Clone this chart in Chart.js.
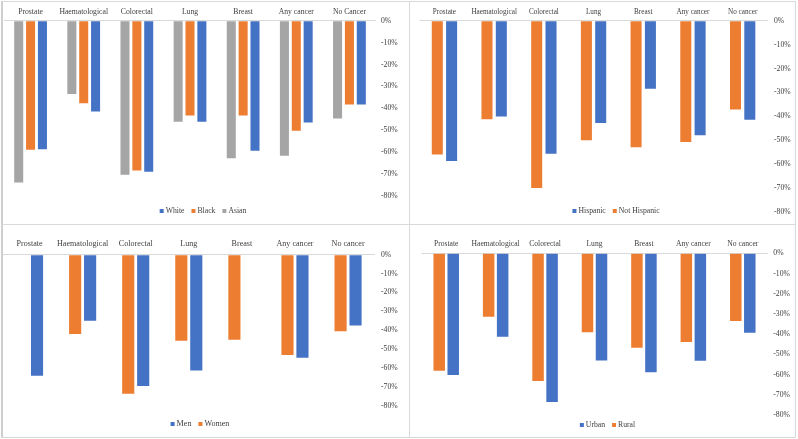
<!DOCTYPE html>
<html><head><meta charset="utf-8">
<script src="https://cdn.jsdelivr.net/npm/chart.js@4"></script>
<style>
html,body{margin:0;padding:0;background:#fff;width:798px;height:439px;overflow:hidden;position:relative}
.frame{position:absolute;border:1px solid #d9d9d9;box-sizing:border-box}
canvas{position:absolute}
</style></head><body>
<div class="frame" style="left:1px;top:1px;width:409px;height:224px;border-left:2px solid #cfcfcf"></div>
<div class="frame" style="left:409px;top:1px;width:387px;height:224px"></div>
<div class="frame" style="left:1px;top:224px;width:409px;height:214px;border-left:2px solid #cfcfcf"></div>
<div class="frame" style="left:409px;top:224px;width:387px;height:214px"></div>
<canvas id="c1" width="406" height="221" style="left:2px;top:2px"></canvas>
<canvas id="c2" width="384" height="221" style="left:410px;top:2px"></canvas>
<canvas id="c3" width="406" height="211" style="left:2px;top:225px"></canvas>
<canvas id="c4" width="384" height="211" style="left:410px;top:225px"></canvas>
<script>
// ---- data ----
const categoriesRace = ['Prostate','Haematological','Colorectal','Lung','Breast','Any cancer','No Cancer'];
const categories = ['Prostate','Haematological','Colorectal','Lung','Breast','Any cancer','No cancer'];
const yTicks = [0,-10,-20,-30,-40,-50,-60,-70,-80];

const white = [-58.7, -41.4, -68.9, -46.1, -59.3, -46.5, -38.2];
const black = [-58.9, -37.7, -68.4, -43.3, -43.3, -50.2, -38.2];
const asian = [-73.8, -33.5, -70.3, -46.1, -62.8, -61.6, -44.6];

const hispanic    = [-58.7, -40.1, -55.7, -42.8, -28.5, -47.9, -41.4];
const notHispanic = [-56.0, -41.2, -70.0, -50.0, -53.0, -50.8, -37.2];

const men   = [-64.1, -35.0, -69.6, -61.3, null, -54.6, -37.5];
const women = [null, -42.0, -73.7, -45.6, -45.0, -53.2, -40.6];

const urban = [-60.2, -41.3, -73.6, -53.0, -58.9, -53.1, -39.3];
const rural = [-58.1, -31.4, -63.2, -39.1, -46.7, -43.9, -33.5];

// ---- styles ----
const BLUE = '#4472C4', ORANGE = '#ED7D31', GRAY = '#A5A5A5';
const TEXT = '#404040';
const FONT = '"Liberation Serif", "Times New Roman", serif';

const legendPlugin = {
  id: 'customLegend',
  afterDraw(chart, args, opts) {
    const ctx = chart.ctx;
    const items = opts.order.map(i => chart.data.datasets[i]);
    ctx.save();
    ctx.font = opts.size + 'px ' + FONT;
    const box = 4, gap = 2, sep = 7;
    const widths = items.map(d => box + gap + ctx.measureText(d.label).width);
    const total = widths.reduce((a, b) => a + b, 0) + sep * (items.length - 1);
    let x = opts.cx - total / 2;
    ctx.textBaseline = 'middle';
    ctx.textAlign = 'left';
    items.forEach((d, i) => {
      ctx.fillStyle = d.backgroundColor;
      ctx.fillRect(x, opts.cy - box / 2, box, box);
      ctx.fillStyle = TEXT;
      ctx.fillText(d.label, x + box + gap, opts.cy);
      x += widths[i] + sep;
    });
    ctx.restore();
  }
};

function makeChart(id, labels, datasets, g) {
  const canvas = document.getElementById(id);
  const W = canvas.width, H = canvas.height;
  return new Chart(canvas, {
    type: 'bar',
    data: { labels: labels, datasets: datasets.map(d => ({
      label: d.label, data: d.data, backgroundColor: d.color, borderWidth: 0,
      categoryPercentage: g.cat, barPercentage: g.bar
    })) },
    options: {
      responsive: false, animation: false, devicePixelRatio: 1,
      layout: { padding: { left: g.left, right: 0, top: 0, bottom: H - g.bottom } },
      plugins: {
        legend: { display: false }, tooltip: { enabled: false },
        customLegend: { order: g.legendOrder, cx: g.lx, cy: g.ly, size: g.lsize }
      },
      scales: {
        x: {
          position: 'top',
          grid: { display: false, drawTicks: false },
          border: { display: false },
          ticks: { color: TEXT, font: { family: FONT, size: g.xsize }, padding: g.xpad, maxRotation: 0, autoSkip: false },
          afterFit: s => { s.height = g.top; }
        },
        y: {
          position: 'right', min: -80, max: 0,
          afterBuildTicks: s => { s.ticks = yTicks.map(v => ({ value: v })); },
          grid: { drawTicks: false, lineWidth: 1,
                  color: c => (c.tick && c.tick.value === 0) ? '#d9d9d9' : 'rgba(0,0,0,0)' },
          border: { display: false },
          ticks: { color: TEXT, font: { family: FONT, size: g.ysize }, padding: g.ypad,
                   callback: v => v + '%' },
          afterFit: s => { s.width = W - g.right; }
        }
      }
    },
    plugins: [legendPlugin]
  });
}

makeChart('c1', categoriesRace, [
  { label: 'Asian', data: asian, color: GRAY },
  { label: 'Black', data: black, color: ORANGE },
  { label: 'White', data: white, color: BLUE }
], { left: 2, right: 374, top: 18.7, bottom: 194, cat: 0.67, bar: 0.76,
     xsize: 7.7, ysize: 7.7, xpad: 4.4, ypad: 5, legendOrder: [2, 1, 0], lx: 201, ly: 209, lsize: 7.7 });

makeChart('c2', categories, [
  { label: 'Not Hispanic', data: notHispanic, color: ORANGE },
  { label: 'Hispanic', data: hispanic, color: BLUE }
], { left: 9.6, right: 357.5, top: 18.7, bottom: 215.3, cat: 0.576, bar: 0.77,
     xsize: 7.2, ysize: 7.7, xpad: 4.4, ypad: 6.5, legendOrder: [1, 0], lx: 206, ly: 209, lsize: 7.7 });

makeChart('c3', categories, [
  { label: 'Women', data: women, color: ORANGE },
  { label: 'Men', data: men, color: BLUE }
], { left: 1, right: 372.6, top: 29.7, bottom: 180.7, cat: 0.564, bar: 0.81,
     xsize: 8.1, ysize: 7.7, xpad: 5.5, ypad: 6.4, legendOrder: [1, 0], lx: 198, ly: 199, lsize: 8.1 });

makeChart('c4', categories, [
  { label: 'Rural', data: rural, color: ORANGE },
  { label: 'Urban', data: urban, color: BLUE }
], { left: 11.5, right: 357.5, top: 28.3, bottom: 190, cat: 0.567, bar: 0.82,
     xsize: 7.6, ysize: 7.7, xpad: 4.4, ypad: 5.8, legendOrder: [1, 0], lx: 197.5, ly: 200, lsize: 7.7 });
</script>
</body></html>
